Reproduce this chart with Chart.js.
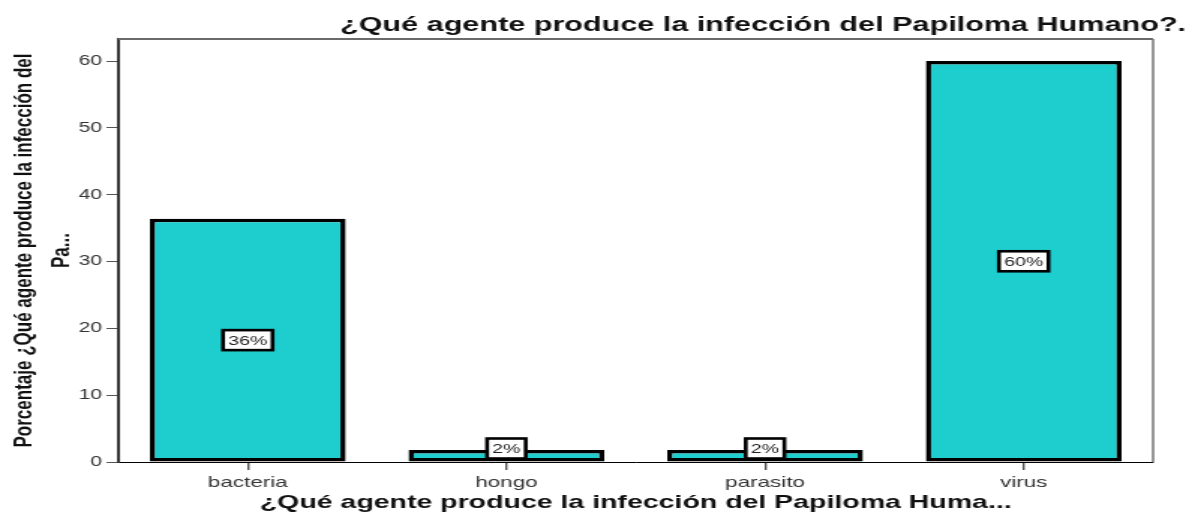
<!DOCTYPE html>
<html>
<head>
<meta charset="utf-8">
<script src="https://cdn.jsdelivr.net/npm/chart.js@4"></script>
<style>
  html, body { margin: 0; padding: 0; background: #fff; }
  /* the source picture is stretched sideways, so the canvas is drawn narrow and scaled up */
  #chart { display: block; width: 1195px; height: 513px; }
</style>
</head>
<body>
<canvas id="chart" width="797" height="513" style="width:1195px;height:513px"></canvas>
<script>
const categories = ["bacteria", "hongo", "parasito", "virus"]
const percentages = [36.4, 1.8, 1.8, 60.0]
const pointLabels = ["36%", "2%", "2%", "60%"]

const chartTitle = "¿Qué agente produce la infección del Papiloma Humano?."
const xTitle = "¿Qué agente produce la infección del Papiloma Huma..."
const yTitle = ["Porcentaje ¿Qué agente produce la infección del", "Pa..."]

const fontFamily = "'Liberation Sans', Arial, sans-serif"

// title in the top right, plus the frame lines on top and right
const frameAndTitle = {
  id: "frameAndTitle",
  afterDraw(chart) {
    const { ctx, chartArea } = chart
    ctx.save()
    ctx.strokeStyle = "#6b6b6b"
    ctx.lineWidth = 2
    ctx.beginPath()
    ctx.moveTo(chartArea.left, chartArea.top)
    ctx.lineTo(chartArea.right, chartArea.top)
    ctx.stroke()
    ctx.lineWidth = 1.4
    ctx.beginPath()
    ctx.moveTo(chartArea.right, chartArea.top)
    ctx.lineTo(chartArea.right, chartArea.bottom)
    ctx.stroke()

    ctx.fillStyle = "#111"
    ctx.font = "bold 20.4px " + fontFamily
    ctx.textAlign = "right"
    ctx.textBaseline = "middle"
    ctx.fillText(chartTitle, 791, 25)
    ctx.restore()
  },
}

// white boxed percentage labels in the bars
const boxedLabels = {
  id: "boxedLabels",
  afterDatasetsDraw(chart) {
    const { ctx } = chart
    const meta = chart.getDatasetMeta(0)
    ctx.save()
    ctx.font = "13px " + fontFamily
    ctx.textAlign = "center"
    ctx.textBaseline = "middle"
    meta.data.forEach((bar, i) => {
      const text = pointLabels[i]
      const w = ctx.measureText(text).width + 7
      const h = 20
      let cy = (bar.y + bar.base) / 2
      cy = Math.min(cy, bar.base - h / 2 - 3)
      ctx.fillStyle = "#fff"
      ctx.fillRect(bar.x - w / 2, cy - h / 2, w, h)
      ctx.strokeStyle = "#000"
      ctx.lineWidth = 2.6
      ctx.strokeRect(bar.x - w / 2, cy - h / 2, w, h)
      ctx.fillStyle = "#222"
      ctx.fillText(text, bar.x, cy + 1)
    })
    ctx.restore()
  },
}

new Chart(document.getElementById("chart"), {
  type: "bar",
  data: {
    labels: categories,
    datasets: [
      {
        data: percentages,
        backgroundColor: "#1ecdcd",
        borderColor: "#000",
        borderWidth: 3.5,
        borderSkipped: false,
        barPercentage: 0.757,
        categoryPercentage: 1,
      },
    ],
  },
  options: {
    responsive: false,
    animation: false,
    devicePixelRatio: 1,
    layout: {
      padding: { left: 4, right: 28, top: 39, bottom: 0 },
    },
    plugins: {
      legend: { display: false },
      tooltip: { enabled: false },
    },
    scales: {
      x: {
        afterFit(scale) {
          scale.height = 51
        },
        grid: {
          offset: false,
          drawOnChartArea: false,
          drawTicks: true,
          tickLength: 8,
          color: "#555",
          lineWidth: 1.4,
        },
        border: { color: "#000", width: 1 },
        ticks: {
          color: "#333",
          padding: 4,
          font: { size: 15, family: fontFamily },
        },
        title: {
          display: true,
          text: xTitle,
          color: "#111",
          padding: { top: 4, bottom: -1 },
          font: { size: 19, weight: "bold", family: fontFamily },
        },
      },
      y: {
        min: 0,
        max: 63.3,
        afterFit(scale) {
          scale.width = 75
        },
        grid: {
          drawOnChartArea: false,
          drawTicks: true,
          tickLength: 8,
          color: "#555",
          lineWidth: 1,
        },
        border: { color: "#333", width: 2 },
        ticks: {
          stepSize: 10,
          includeBounds: false,
          color: "#333",
          padding: 3,
          font: { size: 14, family: fontFamily },
        },
        title: {
          display: true,
          text: yTitle,
          color: "#111",
          padding: { top: 0, bottom: 0 },
          font: { size: 17, weight: "bold", family: fontFamily, lineHeight: 1.45 },
        },
      },
    },
  },
  plugins: [frameAndTitle, boxedLabels],
})
</script>
</body>
</html>
